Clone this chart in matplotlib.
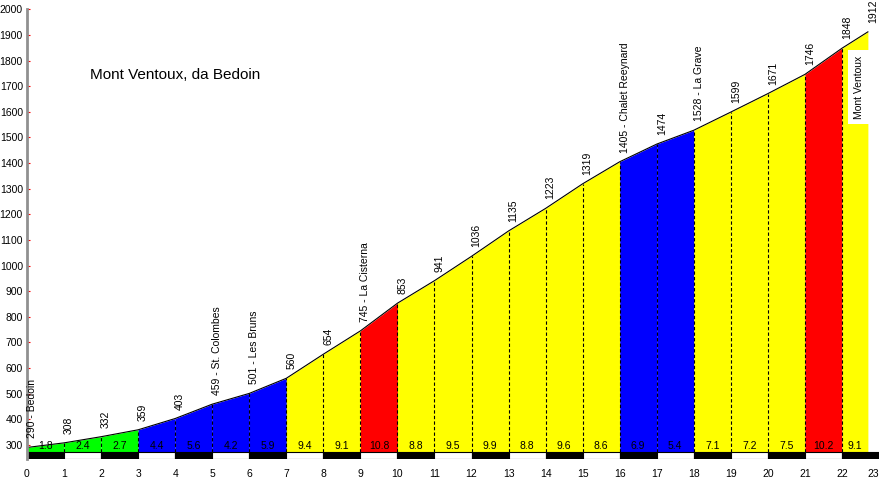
import matplotlib.pyplot as plt
from matplotlib.patches import Rectangle

plt.rcParams['font.family'] = ['Liberation Sans', 'DejaVu Sans']

km = [0, 1, 2, 3, 4, 5, 6, 7, 8, 9, 10, 11, 12, 13, 14, 15, 16, 17, 18, 19, 20, 21, 22, 22.7]
elev = [290, 308, 332, 359, 403, 459, 501, 560, 654, 745, 853, 941, 1036, 1135,
        1223, 1319, 1405, 1474, 1528, 1599, 1671, 1746, 1848, 1912]
grad = [1.8, 2.4, 2.7, 4.4, 5.6, 4.2, 5.9, 9.4, 9.1, 10.8, 8.8, 9.5, 9.9, 8.8,
        9.6, 8.6, 6.9, 5.4, 7.1, 7.2, 7.5, 10.2, 9.1]
places = {0: "Bedoin", 5: "St. Colombes", 6: "Les Bruns", 9: "La Cisterna",
          16: "Chalet Reeynard", 18: "La Grave"}
summit = "Mont Ventoux"
title = "Mont Ventoux, da Bedoin"

ymin, base = 245, 272


def grad_color(g):
    if g < 3:
        return "#00ff00"
    if g < 7:
        return "#0000ff"
    if g < 10:
        return "#ffff00"
    return "#ff0000"


fig = plt.figure(figsize=(8.85, 4.79), dpi=100)
ax = fig.add_axes([27 / 885, 1 - 459 / 479, 852 / 885, (459 - 9.3) / 479])

for i, g in enumerate(grad):
    x0, x1 = km[i], km[i + 1]
    ax.fill_between([x0, x1], [elev[i], elev[i + 1]], base, color=grad_color(g), lw=0)
    ax.text((x0 + x1) / 2, base + 5, f"{g}", ha="center", va="bottom", fontsize=7.5)

ax.vlines(km[1:-1], base, elev[1:-1], colors="k", linestyles=(0, (3, 2)), lw=0.8)
ax.plot(km, elev, color="k", lw=0.8)

# km stripes at the bottom
for i in range(23):
    ax.add_patch(Rectangle((i, ymin), 1, base - ymin,
                           facecolor="k" if i % 2 == 0 else "w", edgecolor="k", lw=0.8))

for i, (k, e) in enumerate(zip(km, elev)):
    txt = f"{e} - {places[i]}" if i in places else f"{e}"
    ax.annotate(txt, (k, e), xytext=(5, 9), textcoords="offset pixels",
                rotation=90, ha="center", va="bottom", fontsize=7.5)

ax.text(22.46, 1697, summit, rotation=90, ha="center", va="center", fontsize=7.5,
        bbox=dict(facecolor="w", edgecolor="none", boxstyle="square,pad=0.55"))
ax.text(1.7, 1744, title, va="center", ha="left", fontsize=11)

ax.set_xlim(0, 23)
ax.set_ylim(ymin, 2000)
ax.set_xticks(range(24))
ax.set_yticks(range(300, 2001, 100))
ax.tick_params(axis="x", length=0, pad=7, labelsize=7.5)
ax.tick_params(axis="y", direction="in", length=2, color="red", pad=3, labelsize=7.5)
ax.get_xticklabels()[-1].set_ha("right")
for s in ["top", "right", "bottom"]:
    ax.spines[s].set_visible(False)
ax.spines["left"].set_color("#909090")
ax.spines["left"].set_linewidth(2)

fig.savefig("out.png", dpi=100)
